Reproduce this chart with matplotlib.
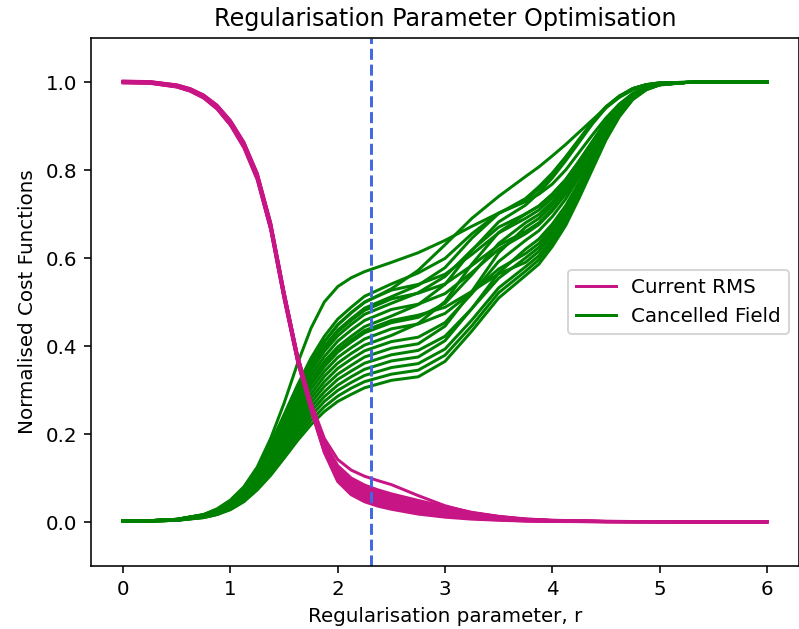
import matplotlib
matplotlib.use("Agg")
import matplotlib.pyplot as plt

# regularisation parameter samples for each family of runs
r_field = [0, 0.25, 0.5, 0.75, 0.875, 1.0, 1.125, 1.25, 1.375, 1.5, 1.625, 1.75,
           1.875, 2.0, 2.125, 2.25, 2.5, 2.75, 3.0, 3.25, 3.5, 3.75, 3.875, 4.0,
           4.125, 4.25, 4.375, 4.5, 4.625, 4.75, 4.875, 5.0, 5.25, 5.5, 6.0]
r_rms = [0, 0.25, 0.5, 0.625, 0.75, 0.875, 1.0, 1.125, 1.25, 1.375, 1.5, 1.625,
         1.75, 1.875, 2.0, 2.125, 2.25, 2.375, 2.5, 2.75, 3.0, 3.25, 3.5, 3.75,
         4.0, 4.5, 5.0, 6.0]

# normalised cancelled field, one list per run
field_curves = [
    [0.002, 0.002, 0.004, 0.011, 0.018, 0.031, 0.050, 0.079, 0.115, 0.158, 0.202, 0.241, 0.274, 0.299, 0.317, 0.333, 0.351, 0.360, 0.393, 0.459, 0.532, 0.580, 0.605, 0.643, 0.689, 0.748, 0.811, 0.874, 0.924, 0.962, 0.983, 0.994, 0.999, 1.0, 1.0],
    [0.002, 0.002, 0.004, 0.011, 0.019, 0.032, 0.053, 0.083, 0.120, 0.165, 0.210, 0.251, 0.285, 0.311, 0.330, 0.347, 0.366, 0.375, 0.412, 0.485, 0.566, 0.620, 0.643, 0.677, 0.719, 0.772, 0.829, 0.886, 0.932, 0.966, 0.985, 0.994, 0.999, 1.0, 1.0],
    [0.002, 0.002, 0.004, 0.012, 0.020, 0.033, 0.055, 0.086, 0.125, 0.172, 0.218, 0.261, 0.296, 0.324, 0.343, 0.361, 0.380, 0.390, 0.422, 0.485, 0.554, 0.600, 0.624, 0.660, 0.704, 0.760, 0.820, 0.880, 0.928, 0.964, 0.984, 0.994, 0.999, 1.0, 1.0],
    [0.002, 0.002, 0.004, 0.012, 0.020, 0.034, 0.057, 0.089, 0.130, 0.178, 0.227, 0.271, 0.308, 0.336, 0.356, 0.375, 0.395, 0.405, 0.445, 0.524, 0.612, 0.670, 0.690, 0.720, 0.756, 0.802, 0.852, 0.901, 0.941, 0.970, 0.987, 0.995, 0.999, 1.0, 1.0],
    [0.002, 0.003, 0.005, 0.013, 0.021, 0.036, 0.059, 0.092, 0.134, 0.185, 0.235, 0.281, 0.319, 0.349, 0.370, 0.389, 0.410, 0.420, 0.453, 0.519, 0.592, 0.640, 0.662, 0.694, 0.734, 0.784, 0.838, 0.892, 0.935, 0.968, 0.986, 0.995, 0.999, 1.0, 1.0],
    [0.002, 0.003, 0.005, 0.013, 0.022, 0.037, 0.061, 0.096, 0.139, 0.191, 0.244, 0.291, 0.331, 0.361, 0.383, 0.402, 0.424, 0.451, 0.501, 0.586, 0.658, 0.700, 0.718, 0.745, 0.778, 0.820, 0.865, 0.910, 0.946, 0.973, 0.988, 0.996, 0.999, 1.0, 1.0],
    [0.002, 0.003, 0.005, 0.014, 0.023, 0.038, 0.063, 0.099, 0.144, 0.198, 0.252, 0.302, 0.342, 0.374, 0.396, 0.416, 0.439, 0.450, 0.474, 0.522, 0.575, 0.610, 0.633, 0.669, 0.711, 0.766, 0.825, 0.883, 0.930, 0.965, 0.984, 0.994, 0.999, 1.0, 1.0],
    [0.002, 0.003, 0.005, 0.014, 0.023, 0.040, 0.065, 0.102, 0.149, 0.205, 0.260, 0.312, 0.353, 0.386, 0.409, 0.430, 0.453, 0.465, 0.497, 0.562, 0.633, 0.680, 0.699, 0.728, 0.763, 0.808, 0.856, 0.904, 0.942, 0.971, 0.987, 0.995, 0.999, 1.0, 1.0],
    [0.002, 0.003, 0.005, 0.014, 0.024, 0.041, 0.067, 0.106, 0.154, 0.211, 0.269, 0.322, 0.365, 0.398, 0.422, 0.444, 0.468, 0.494, 0.540, 0.617, 0.682, 0.720, 0.748, 0.782, 0.821, 0.863, 0.905, 0.941, 0.966, 0.985, 0.994, 0.998, 0.999, 1.0, 1.0],
    [0.002, 0.003, 0.005, 0.015, 0.025, 0.042, 0.069, 0.109, 0.158, 0.218, 0.277, 0.332, 0.376, 0.411, 0.436, 0.458, 0.483, 0.495, 0.519, 0.567, 0.620, 0.655, 0.676, 0.707, 0.745, 0.793, 0.845, 0.897, 0.938, 0.969, 0.986, 0.995, 0.999, 1.0, 1.0],
    [0.003, 0.003, 0.006, 0.015, 0.026, 0.043, 0.071, 0.112, 0.163, 0.224, 0.286, 0.342, 0.388, 0.423, 0.449, 0.472, 0.497, 0.521, 0.558, 0.618, 0.670, 0.700, 0.718, 0.745, 0.778, 0.820, 0.865, 0.910, 0.946, 0.973, 0.988, 0.996, 0.999, 1.0, 1.0],
    [0.003, 0.003, 0.006, 0.016, 0.026, 0.045, 0.074, 0.116, 0.168, 0.231, 0.294, 0.352, 0.399, 0.436, 0.462, 0.486, 0.512, 0.538, 0.578, 0.645, 0.701, 0.735, 0.762, 0.793, 0.830, 0.870, 0.910, 0.944, 0.968, 0.985, 0.994, 0.998, 0.999, 1.0, 1.0],
    [0.003, 0.003, 0.006, 0.016, 0.027, 0.046, 0.076, 0.119, 0.173, 0.238, 0.302, 0.362, 0.410, 0.448, 0.475, 0.500, 0.527, 0.540, 0.563, 0.608, 0.657, 0.690, 0.709, 0.737, 0.771, 0.814, 0.861, 0.907, 0.944, 0.972, 0.988, 0.995, 0.999, 1.0, 1.0],
    [0.003, 0.003, 0.006, 0.017, 0.028, 0.047, 0.078, 0.122, 0.178, 0.244, 0.311, 0.372, 0.422, 0.461, 0.488, 0.513, 0.541, 0.566, 0.599, 0.655, 0.702, 0.730, 0.757, 0.789, 0.827, 0.868, 0.908, 0.943, 0.968, 0.985, 0.994, 0.998, 0.999, 1.0, 1.0],
    [0.002, 0.003, 0.005, 0.014, 0.024, 0.040, 0.066, 0.103, 0.150, 0.207, 0.263, 0.315, 0.357, 0.390, 0.414, 0.435, 0.458, 0.470, 0.488, 0.524, 0.564, 0.590, 0.615, 0.652, 0.697, 0.754, 0.816, 0.877, 0.926, 0.963, 0.984, 0.994, 0.999, 1.0, 1.0],
    [0.003, 0.003, 0.006, 0.016, 0.026, 0.044, 0.073, 0.114, 0.166, 0.229, 0.291, 0.348, 0.395, 0.432, 0.458, 0.481, 0.507, 0.520, 0.541, 0.583, 0.629, 0.660, 0.680, 0.711, 0.748, 0.796, 0.847, 0.898, 0.939, 0.969, 0.986, 0.995, 0.999, 1.0, 1.0],
    [0.002, 0.002, 0.004, 0.010, 0.017, 0.028, 0.046, 0.073, 0.106, 0.145, 0.185, 0.221, 0.251, 0.274, 0.290, 0.305, 0.322, 0.330, 0.365, 0.434, 0.509, 0.560, 0.586, 0.626, 0.674, 0.736, 0.802, 0.868, 0.921, 0.960, 0.982, 0.993, 0.999, 1.0, 1.0],
    [0.002, 0.002, 0.004, 0.010, 0.017, 0.029, 0.048, 0.076, 0.110, 0.152, 0.193, 0.231, 0.262, 0.286, 0.304, 0.319, 0.336, 0.345, 0.379, 0.446, 0.521, 0.570, 0.596, 0.635, 0.682, 0.742, 0.807, 0.871, 0.923, 0.961, 0.983, 0.994, 0.999, 1.0, 1.0],
    [0.002, 0.003, 0.006, 0.017, 0.030, 0.050, 0.080, 0.125, 0.190, 0.270, 0.360, 0.440, 0.500, 0.535, 0.555, 0.569, 0.590, 0.612, 0.640, 0.672, 0.702, 0.728, 0.745, 0.768, 0.800, 0.840, 0.880, 0.918, 0.950, 0.974, 0.988, 0.995, 0.999, 1.0, 1.0],
    [0.002, 0.003, 0.006, 0.016, 0.027, 0.046, 0.076, 0.119, 0.173, 0.237, 0.302, 0.361, 0.410, 0.448, 0.476, 0.499, 0.530, 0.572, 0.630, 0.690, 0.740, 0.785, 0.807, 0.832, 0.858, 0.886, 0.914, 0.942, 0.965, 0.982, 0.992, 0.997, 1.0, 1.0, 1.0],
]

# normalised current RMS, one list per run
rms_curves = [
    [0.998, 0.997, 0.9885, 0.979, 0.9635, 0.9385, 0.9015, 0.8505, 0.7775, 0.664, 0.507, 0.365, 0.255, 0.158, 0.092, 0.062, 0.046, 0.036, 0.029, 0.018, 0.011, 0.0065, 0.004, 0.002, 0.0012, 0.0005, 0.0003, 0.0002],
    [0.9984, 0.9974, 0.989, 0.9796, 0.9642, 0.9394, 0.9026, 0.8518, 0.779, 0.6656, 0.5086, 0.3663, 0.2565, 0.1602, 0.0956, 0.0658, 0.0498, 0.0397, 0.0325, 0.0211, 0.0134, 0.0081, 0.0049, 0.0025, 0.0015, 0.0006, 0.0003, 0.0002],
    [0.9988, 0.9978, 0.9895, 0.9802, 0.9649, 0.9403, 0.9037, 0.8531, 0.7805, 0.6672, 0.5102, 0.3676, 0.258, 0.1624, 0.0992, 0.0696, 0.0536, 0.0434, 0.036, 0.0242, 0.0158, 0.0096, 0.0058, 0.003, 0.0018, 0.0007, 0.0004, 0.0003],
    [0.9992, 0.9982, 0.990, 0.9808, 0.9656, 0.9412, 0.9048, 0.8544, 0.782, 0.6688, 0.5118, 0.3689, 0.2595, 0.1646, 0.1028, 0.0734, 0.0574, 0.0471, 0.0395, 0.0273, 0.0182, 0.0112, 0.0067, 0.0035, 0.002, 0.0008, 0.0005, 0.0003],
    [0.9996, 0.9986, 0.9905, 0.9814, 0.9663, 0.9421, 0.9059, 0.8557, 0.7835, 0.6704, 0.5134, 0.3702, 0.261, 0.1668, 0.1064, 0.0772, 0.0612, 0.0508, 0.043, 0.0304, 0.0206, 0.0127, 0.0076, 0.004, 0.0023, 0.0009, 0.0005, 0.0003],
    [1.0, 0.999, 0.991, 0.982, 0.967, 0.943, 0.907, 0.857, 0.785, 0.672, 0.515, 0.3715, 0.2625, 0.169, 0.110, 0.081, 0.065, 0.0545, 0.0465, 0.0335, 0.023, 0.0143, 0.0085, 0.0045, 0.0026, 0.001, 0.00055, 0.00035],
    [1.0004, 0.9994, 0.9915, 0.9826, 0.9677, 0.9439, 0.9081, 0.8583, 0.7865, 0.6736, 0.5166, 0.3728, 0.264, 0.1712, 0.1136, 0.0848, 0.0688, 0.0582, 0.050, 0.0366, 0.0254, 0.0158, 0.0094, 0.005, 0.0029, 0.0011, 0.0006, 0.0004],
    [1.0008, 0.9998, 0.992, 0.9832, 0.9684, 0.9448, 0.9092, 0.8596, 0.788, 0.6752, 0.5182, 0.3741, 0.2655, 0.1734, 0.1172, 0.0886, 0.0726, 0.0619, 0.0535, 0.0397, 0.0278, 0.0174, 0.0103, 0.0055, 0.0032, 0.0012, 0.0007, 0.0004],
    [1.0012, 1.0002, 0.9925, 0.9838, 0.9691, 0.9457, 0.9103, 0.8609, 0.7895, 0.6768, 0.5198, 0.3754, 0.267, 0.1756, 0.1208, 0.0924, 0.0764, 0.0656, 0.057, 0.0428, 0.0302, 0.0189, 0.0112, 0.006, 0.0034, 0.0013, 0.0007, 0.0004],
    [1.0016, 1.0006, 0.993, 0.9844, 0.9698, 0.9466, 0.9114, 0.8622, 0.791, 0.6784, 0.5214, 0.3767, 0.2685, 0.1778, 0.1244, 0.0962, 0.0802, 0.0693, 0.0605, 0.0459, 0.0326, 0.0205, 0.0121, 0.0065, 0.0037, 0.0014, 0.0008, 0.0005],
    [1.002, 1.001, 0.9935, 0.985, 0.9705, 0.9475, 0.9125, 0.8635, 0.7925, 0.680, 0.523, 0.378, 0.270, 0.180, 0.128, 0.100, 0.084, 0.073, 0.064, 0.049, 0.035, 0.022, 0.013, 0.007, 0.004, 0.0015, 0.0008, 0.0005],
    [1.0008, 0.9998, 0.992, 0.9832, 0.9684, 0.9448, 0.9092, 0.8596, 0.788, 0.6752, 0.5182, 0.379, 0.272, 0.190, 0.142, 0.118, 0.104, 0.094, 0.085, 0.060, 0.037, 0.021, 0.012, 0.006, 0.003, 0.001, 0.0005, 0.0003],
]

r_optimal = 2.31

dpi = 143.4
fig = plt.figure(figsize=(799 / dpi, 629 / dpi), dpi=dpi)
ax = fig.add_axes([91 / 799, 63 / 629, 708 / 799, 528 / 629])

for curve in field_curves:
    field_line, = ax.plot(r_field, curve, color="green", lw=1.5)
for curve in rms_curves:
    rms_line, = ax.plot(r_rms, curve, color="mediumvioletred", lw=1.5)

ax.axvline(r_optimal, color="royalblue", ls="--", lw=1.5)

ax.set_xlim(-0.3, 6.3)
ax.set_ylim(-0.1, 1.1)
ax.set_xlabel("Regularisation parameter, r")
ax.set_ylabel("Normalised Cost Functions")
ax.set_title("Regularisation Parameter Optimisation")
ax.legend([rms_line, field_line], ["Current RMS", "Cancelled Field"], loc="center right")

fig.savefig("out.png", dpi=dpi)
